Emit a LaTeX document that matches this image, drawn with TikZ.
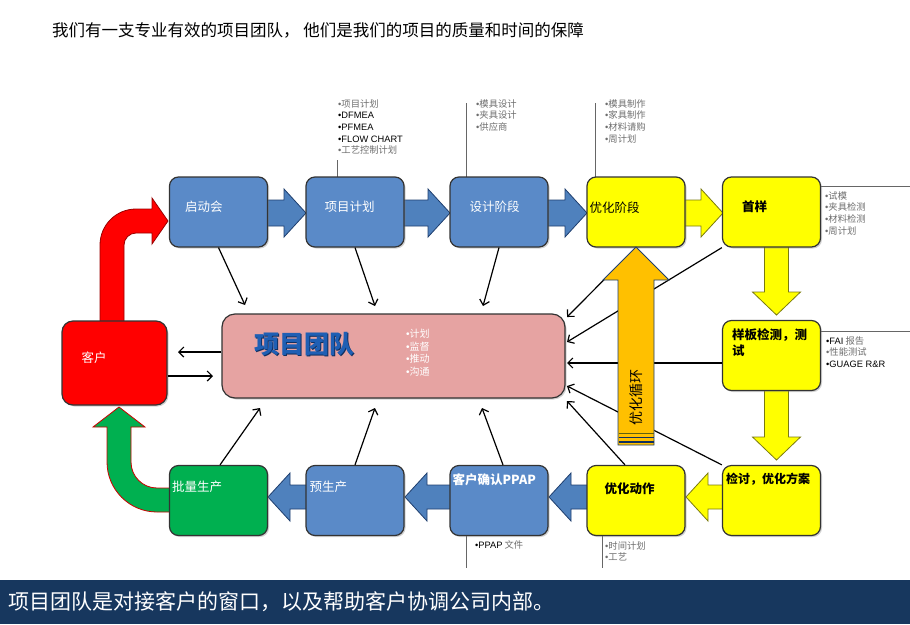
\documentclass[tikz,border=0pt]{standalone}
\usepackage{fontspec}
\setmainfont{Noto Sans CJK SC}
\newfontfamily\latf{Liberation Sans}
\newcommand{\bul}{{\latf •}}
\usetikzlibrary{arrows.meta,shadows,calc}
\definecolor{boxblue}{HTML}{5A8AC8}
\definecolor{arrblue}{HTML}{4F81BD}
\definecolor{arrblueline}{HTML}{1F3F6F}
\definecolor{boxyellow}{HTML}{FFFF00}
\definecolor{yline}{HTML}{7A7A10}
\definecolor{boxred}{HTML}{FF0000}
\definecolor{boxgreen}{HTML}{00B050}
\definecolor{teampink}{HTML}{E6A3A2}
\definecolor{teamblue}{HTML}{1F5FB4}
\definecolor{teamdark}{HTML}{0F2F60}
\definecolor{gold}{HTML}{FFC000}
\definecolor{barblue}{HTML}{17375E}
\definecolor{notegray}{HTML}{6E6E6E}
\newcommand{\rightblk}[4]{\draw[#1] (#2,#4-13) -- (#3-22,#4-13) -- (#3-22,#4-24) -- (#3,#4) -- (#3-22,#4+24) -- (#3-22,#4+13) -- (#2,#4+13) -- cycle;}
\newcommand{\leftblk}[4]{\draw[#1] (#2,#4-12) -- (#3+22,#4-12) -- (#3+22,#4-24) -- (#3,#4) -- (#3+22,#4+24) -- (#3+22,#4+12) -- (#2,#4+12) -- cycle;}
\newcommand{\downblk}[4]{\draw[#1] (#4-12,#2) -- (#4-12,#3-23) -- (#4-24,#3-23) -- (#4,#3) -- (#4+24,#3-23) -- (#4+12,#3-23) -- (#4+12,#2) -- cycle;}
\begin{document}
\begin{tikzpicture}[x=1pt,y=-1pt,
  box/.style={draw=black!80, line width=1.2pt, rounded corners=9pt, minimum width=98pt, minimum height=70pt, inner sep=0pt,
    drop shadow={shadow xshift=1.5pt,shadow yshift=-1.5pt,opacity=0.35}},
  lbl/.style={anchor=west, inner sep=0pt, font=\fontsize{12.5}{15}\selectfont},
  wlbl/.style={lbl, text=white},
  blbl/.style={lbl, font=\fontsize{12.5}{15}\selectfont\bfseries},
  barb/.style={fill=arrblue, draw=arrblueline, line width=0.8pt},
  yarb/.style={fill=boxyellow, draw=yline, line width=0.8pt},
  conn/.style={draw=black, line width=1.2pt, -{Straight Barb[length=5pt,width=10pt]}},
  note/.style={anchor=north west, inner sep=0pt, align=left, font=\fontsize{9.3}{11.7}\selectfont},
  noteline/.style={draw=black!60, line width=0.9pt}]
\useasboundingbox (0,0) rectangle (910,624);
\fill[white] (0,0) rectangle (910,624);

% title
\node[anchor=west, inner sep=0pt, font=\fontsize{16.5}{19}\selectfont] (title) at (52,30) {我们有一支专业有效的项目团队， 他们是我们的项目的质量和时间的保障};

% bottom bar
\fill[barblue] (0,580) rectangle (910,624);
\node[anchor=west, inner sep=0pt, text=white, font=\fontsize{21}{24}\selectfont] (foot) at (8,602) {项目团队是对接客户的窗口，以及帮助客户协调公司内部。};

% annotation lines
\draw[noteline] (337,160) -- (337,177);
\draw[noteline] (466,103) -- (466,177);
\draw[noteline] (595,103) -- (595,177);
\draw[noteline] (820,186) -- (910,186);
\draw[noteline] (820,331) -- (910,331);
\draw[noteline] (466,535) -- (466,568);
\draw[noteline] (602,535) -- (602,568);

% block arrows
\rightblk{barb}{262}{306}{213}
\rightblk{barb}{398}{450}{213}
\rightblk{barb}{542}{587}{213}
\rightblk{yarb}{679}{723}{213}
\downblk{yarb}{242}{315}{776.5}
\downblk{yarb}{385}{460}{776.5}
\leftblk{yarb}{729}{686}{497}
\leftblk{barb}{593}{549}{497}
\leftblk{barb}{456}{405}{497}
\leftblk{barb}{312}{268}{497}

% red bent arrow
\draw[fill=boxred, draw=red!60!black, line width=0.8pt]
  (100,330) -- (100,245) .. controls (100,225.1) and (116.1,209) .. (136,209)
  -- (152,209) -- (152,198) -- (168,221) -- (152,244) -- (152,233) -- (136,233)
  .. controls (129.4,233) and (124,238.4) .. (124,245) -- (124,330) -- cycle;
% green bent arrow
\draw[fill=boxgreen, draw=red!80!black, line width=0.8pt]
  (175,512) -- (157,512) .. controls (129.4,512) and (107,489.6) .. (107,462)
  -- (107,427) -- (93,427) -- (119,407) -- (145,427) -- (131,427) -- (131,462)
  .. controls (131,476.4) and (142.6,488) .. (157,488) -- (175,488) -- cycle;

% boxes
\node[box, fill=boxblue] (qdh) at (218.5,212) {};
\node[box, fill=boxblue] (xmjh) at (355,212) {};
\node[box, fill=boxblue] (sjjd) at (499,212) {};
\node[box, fill=boxyellow] (yhjd) at (636,212) {};
\node[box, fill=boxyellow] (sy) at (771.5,212) {};
\node[box, fill=boxyellow] (yb) at (771.5,355.5) {};
\node[box, fill=boxyellow] (jt) at (771.5,500.5) {};
\node[box, fill=boxyellow] (yhdz) at (636,500.5) {};
\node[box, fill=boxblue] (khqr) at (499,500.5) {};
\node[box, fill=boxblue] (ysc) at (355,500.5) {};
\node[box, fill=boxgreen] (plsc) at (218.5,500.5) {};
\node[box, fill=boxred, minimum width=105pt, minimum height=84pt, rounded corners=11pt] (kh) at (114.5,363) {};
\node[box, fill=teampink, minimum width=343pt, minimum height=84pt, rounded corners=13pt] (team) at (393.5,356) {};

% box labels
\node[wlbl] at ([xshift=16pt,yshift=-30pt]qdh.north west) {启动会};
\node[wlbl] at ([xshift=19pt,yshift=-30pt]xmjh.north west) {项目计划};
\node[wlbl] at ([xshift=20pt,yshift=-30pt]sjjd.north west) {设计阶段};
\node[lbl] at ([xshift=3pt,yshift=-31pt]yhjd.north west) {优化阶段};
\node[blbl] at ([xshift=20pt,yshift=-30pt]sy.north west) {首样};
\node[blbl, anchor=north west, align=left, font=\fontsize{12.5}{16}\selectfont\bfseries] at ([xshift=10pt,yshift=-9pt]yb.north west) {样板检测，测\\试};
\node[blbl, font=\fontsize{12}{15}\selectfont\bfseries] at ([xshift=4pt,yshift=-14pt]jt.north west) {检讨，优化方案};
\node[blbl] at ([xshift=18pt,yshift=-24pt]yhdz.north west) {优化动作};
\node[wlbl, font=\fontsize{12.5}{15}\selectfont\bfseries] at ([xshift=3pt,yshift=-15pt]khqr.north west) {客户确认PPAP};
\node[wlbl] at ([xshift=4pt,yshift=-22pt]ysc.north west) {预生产};
\node[wlbl] at ([xshift=3pt,yshift=-22pt]plsc.north west) {批量生产};
\node[wlbl] at ([xshift=20pt,yshift=-37pt]kh.north west) {客户};
\node[anchor=west, inner sep=0pt, font=\fontsize{25}{30}\selectfont\bfseries, text=teamdark] at ([xshift=34.2pt,yshift=-32.2pt]team.north west) {项目团队};
\node[anchor=west, inner sep=0pt, font=\fontsize{25}{30}\selectfont\bfseries, text=teamblue] (teamtitle) at ([xshift=33pt,yshift=-31pt]team.north west) {项目团队};
\node[note, text=white, font=\fontsize{10}{12.5}\selectfont] (teamlist) at (406,329) {\bul 计划\\\bul 监督\\\bul 推动\\\bul 沟通};

% notes
\node[note] (n1) at (338,99) {\textcolor{notegray}{\bul 项目计划}\\{\latf •DFMEA}\\{\latf •PFMEA}\\{\latf •FLOW CHART}\\\textcolor{notegray}{\bul 工艺控制计划}};
\node[note, text=notegray] (n2) at (476,99) {\bul 模具设计\\\bul 夹具设计\\\bul 供应商};
\node[note, text=notegray] (n3) at (605,99) {\bul 模具制作\\\bul 家具制作\\\bul 材料请购\\\bul 周计划};
\node[note, text=notegray] (n4) at (825,191) {\bul 试模\\\bul 夹具检测\\\bul 材料检测\\\bul 周计划};
\node[note] (n5) at (826,336) {{\latf •FAI} \textcolor{notegray}{报告}\\\textcolor{notegray}{\bul 性能测试}\\{\latf •GUAGE R\&R}};
\node[note] (n6) at (475,540) {{\latf •PPAP} \textcolor{notegray}{文件}};
\node[note, text=notegray] (n7) at (605,541) {\bul 时间计划\\\bul 工艺};

% connector end points
\coordinate (t1) at (245,305);
\coordinate (t2) at (375,306);
\coordinate (t3) at (483,306);
\coordinate (r1) at (567,317);
\coordinate (r2) at (567,342);
\coordinate (r3) at (567,363);
\coordinate (r4) at (567,386);
\coordinate (r5) at (567,401);
\coordinate (b1) at (260,408);
\coordinate (b2) at (375,408);
\coordinate (b3) at (482,408);
\coordinate (l1) at (178,352);
\coordinate (l2) at (213,376);

% connectors
\draw[conn] (qdh.south) -- (t1);
\draw[conn] (xmjh.south) -- (t2);
\draw[conn] (sjjd.south) -- (t3);
\draw[conn] (yhjd.south) -- (r1);
\draw[conn] (sy.south west) -- (r2);
\draw[conn] ([yshift=-7.5pt]yb.west) -- (r3);
\draw[conn] (jt.north west) -- (r4);
\draw[conn] ([xshift=-11pt]yhdz.north) -- (r5);
\draw[conn] ([xshift=4pt]khqr.north) -- (b3);
\draw[conn] (ysc.north) -- (b2);
\draw[conn] ([xshift=1.5pt]plsc.north) -- (b1);
\draw[conn] ([yshift=4pt]team.west) -- (l1);
\draw[conn] ([yshift=-13pt]kh.east) -- (l2);

% big gold arrow
\draw[fill=gold, draw=arrblueline, line width=0.8pt]
  (618,445) -- (618,280) -- (603,280) -- (636,247) -- (669,280) -- (654,280) -- (654,445) -- cycle;
\draw[draw=yline!80!black, line width=0.6pt] (618.5,433) -- (653.5,433);
\draw[draw=teamdark, line width=1.4pt] (618.5,437.5) -- (653.5,437.5);
\draw[draw=teamdark, line width=1.4pt] (618.5,442) -- (653.5,442);
\node[rotate=90, inner sep=0pt, font=\fontsize{14}{16}\selectfont] (loop) at (636,397) {优化循环};
\end{tikzpicture}
\end{document}
